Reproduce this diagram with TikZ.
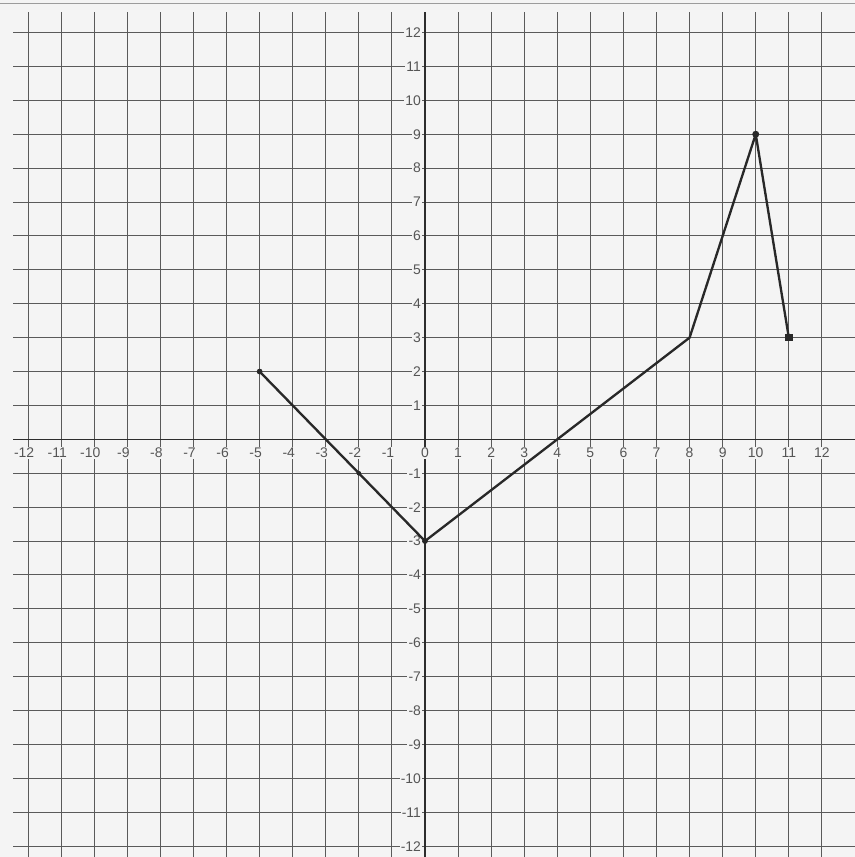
\documentclass[tikz,border=0pt]{standalone}
\usepackage{fontspec}
\setmainfont{Liberation Sans}
\usetikzlibrary{calc}
\definecolor{paper}{RGB}{244,244,244}
\definecolor{rule}{RGB}{90,90,90}
\definecolor{charcoal}{RGB}{45,45,45}
\definecolor{pencil}{RGB}{40,40,40}
\definecolor{digit}{RGB}{85,85,85}

\begin{document}
\begin{tikzpicture}[x=1cm, y=1.025cm,
            gridrule/.style={draw=rule, line width=0.9pt},
            axisrule/.style={draw=charcoal, line width=1.1pt},
            ticklabel/.style={fill=paper, inner sep=1pt, text=digit, font=\fontsize{12}{14}\selectfont},
            vertex/.style={circle, fill=pencil, inner sep=0pt, minimum size=5pt},
            segment/.style={draw=pencil, line width=2pt, line join=round}
        ]
            \fill[paper] (-12.85,-12.32) rectangle (13.0,12.96);
            \useasboundingbox (-12.85,-12.32) rectangle (13.0,12.96);
            \draw[draw=rule!60, line width=0.6pt] (-12.85,12.87) -- (13.0,12.87);

            \foreach \i in {-12,...,12} {
                \draw[gridrule] (\i,-12.32) -- (\i,12.6);
                \draw[gridrule] (-12.45,\i) -- (13.0,\i);
            }
            \draw[axisrule] (0,-12.32) -- (0,12.6);
            \draw[axisrule] (-12.45,0) -- (13.0,0);

            \foreach \i in {-12,...,-1}
                \node[ticklabel, xshift=-0.12cm] (xl\i) at (\i,-0.4) {\i};
            \foreach \i in {0,...,12}
                \node[ticklabel] (xl\i) at (\i,-0.4) {\i};
            \foreach \i in {-12,...,-1,1,2,...,12}
                \node[ticklabel, anchor=east] (yl\i) at (-0.08,\i) {\i};

            \node[vertex] (start) at (-5,2) {};
            \node[vertex, minimum size=4pt] (mid) at (-2,-1) {};
            \node[vertex] (low) at (0,-3) {};
            \coordinate (knee) at (8,3);
            \node[vertex, minimum size=6pt] (peak) at (10,9) {};
            \node[vertex, rectangle, minimum size=6.5pt] (finish) at (11,3) {};

            \draw[segment] (start.center) -- (mid.center) -- (low.center) -- (knee) -- (peak.center) -- (finish.center);
        \end{tikzpicture}
\end{document}
